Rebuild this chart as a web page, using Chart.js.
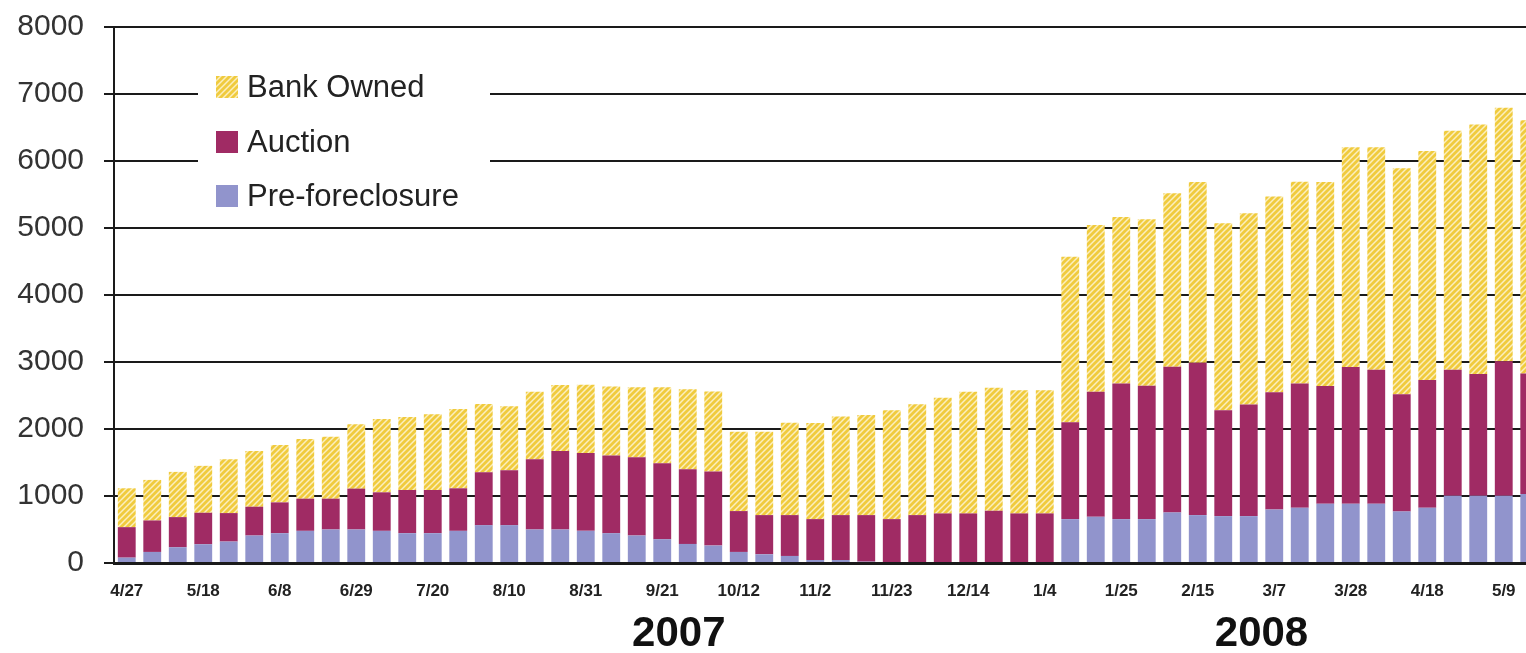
<!DOCTYPE html>
<html>
<head>
<meta charset="utf-8">
<script src="https://cdn.jsdelivr.net/npm/chart.js@4"></script>
<style>
  html, body { margin: 0; padding: 0; background: #fff; overflow: hidden; }
  #wrap { width: 1542px; height: 653px; }
</style>
</head>
<body>
<div id="wrap"><canvas id="c" width="1542" height="653"></canvas></div>
<script>
const weeks = ['4/27','5/4','5/11','5/18','5/25','6/1','6/8','6/15','6/22','6/29','7/6','7/13','7/20','7/27','8/3','8/10','8/17','8/24','8/31','9/7','9/14','9/21','9/28','10/5','10/12','10/19','10/26','11/2','11/9','11/16','11/23','11/30','12/7','12/14','12/21','12/28','1/4','1/11','1/18','1/25','2/1','2/8','2/15','2/22','2/29','3/7','3/14','3/21','3/28','4/4','4/11','4/18','4/25','5/2','5/9','5/16'];

const preForeclosure = [80,165,235,280,320,410,445,480,500,500,480,445,445,480,565,565,500,500,480,445,410,355,285,260,165,130,105,45,45,20,0,0,0,0,0,0,0,655,690,655,655,755,715,700,700,800,825,885,885,885,770,825,1005,1005,1005,1030];
const auction = [455,470,450,470,425,430,460,480,460,610,575,645,645,635,790,820,1050,1170,1160,1160,1170,1135,1115,1105,610,585,610,610,670,695,655,715,740,740,780,740,740,1445,1865,2025,1990,2175,2275,1580,1665,1750,1855,1755,2040,2000,1750,1905,1880,1815,2005,1800];
const bankOwned = [580,605,675,700,805,830,855,890,925,960,1095,1090,1130,1185,1020,955,1005,985,1020,1030,1045,1135,1195,1195,1185,1245,1380,1435,1470,1495,1625,1655,1725,1815,1835,1840,1840,2470,2490,2485,2485,2590,2695,2790,2855,2920,3010,3045,3280,3320,3370,3420,3565,3725,3785,3780];

const seriesNames = ['Bank Owned', 'Auction', 'Pre-foreclosure'];
const yearLabels = ['2007', '2008'];
const yearPositions = [21.65, 44.5];

const COL_AUCTION = '#A02B64';
const COL_PRE = '#9194CC';

function makeHatch() {
  const s = 6;
  const c = document.createElement('canvas');
  c.width = s; c.height = s;
  const x = c.getContext('2d');
  x.fillStyle = '#FBEFBF';
  x.fillRect(0, 0, s, s);
  x.strokeStyle = '#F0CB3E';
  x.lineWidth = 2.8;
  x.beginPath();
  x.moveTo(-1, s + 1); x.lineTo(s + 1, -1);
  x.moveTo(-s / 2 - 1, s / 2 + 1); x.lineTo(s / 2 + 1, -s / 2 - 1);
  x.moveTo(s / 2 - 1, s * 1.5 + 1); x.lineTo(s * 1.5 + 1, s / 2 - 1);
  x.stroke();
  return document.getElementById('c').getContext('2d').createPattern(c, 'repeat');
}
const hatch = makeHatch();

const legendPlugin = {
  id: 'insideLegend',
  beforeDatasetsDraw(chart) {
    const ctx = chart.ctx;
    ctx.save();
    ctx.fillStyle = '#ffffff';
    ctx.fillRect(198, 60, 292, 156);
    const items = [
      { label: seriesNames[0], fill: hatch },
      { label: seriesNames[1], fill: COL_AUCTION },
      { label: seriesNames[2], fill: COL_PRE }
    ];
    const tops = [76, 131, 185];
    ctx.font = '31px "Liberation Sans", Arial, sans-serif';
    ctx.textBaseline = 'middle';
    ctx.textAlign = 'left';
    items.forEach((it, i) => {
      ctx.fillStyle = it.fill;
      ctx.fillRect(216, tops[i], 22, 22);
      ctx.fillStyle = '#222';
      ctx.fillText(it.label, 247, tops[i] + 12);
    });
    ctx.restore();
  },
  afterDraw(chart) {
    const ctx = chart.ctx;
    const xs = chart.scales.x;
    ctx.save();
    ctx.font = 'bold 42px "Liberation Sans", Arial, sans-serif';
    ctx.fillStyle = '#111';
    ctx.textAlign = 'center';
    ctx.textBaseline = 'middle';
    yearLabels.forEach((t, i) => {
      ctx.fillText(t, xs.getPixelForValue(yearPositions[i]), 634);
    });
    ctx.restore();
  }
};

new Chart(document.getElementById('c'), {
  type: 'bar',
  data: {
    labels: weeks,
    datasets: [
      { label: seriesNames[2], data: preForeclosure, backgroundColor: COL_PRE },
      { label: seriesNames[1], data: auction, backgroundColor: COL_AUCTION },
      { label: seriesNames[0], data: bankOwned, backgroundColor: hatch }
    ]
  },
  options: {
    responsive: false,
    animation: false,
    devicePixelRatio: 1,
    layout: { padding: { top: 27, left: 0, right: 0, bottom: 0 } },
    plugins: { legend: { display: false }, tooltip: { enabled: false } },
    datasets: { bar: { barPercentage: 0.7, categoryPercentage: 1.0, borderWidth: 0 } },
    scales: {
      x: {
        stacked: true,
        offset: true,
        grid: { display: false, drawTicks: false },
        border: { display: true, color: '#1a1a1a', width: 3 },
        ticks: {
          autoSkip: false,
          maxRotation: 0,
          minRotation: 0,
          padding: 18,
          color: '#222',
          font: { family: '"Liberation Sans", Arial, sans-serif', size: 17, weight: 'bold' },
          callback: function(v, i) { return (i % 3 === 0 && i < 55) ? weeks[i] : ''; }
        },
        afterFit(scale) { scale.height = 90; scale.paddingLeft = 0; scale.paddingRight = 0; }
      },
      y: {
        stacked: true,
        min: 0,
        max: 8000,
        grid: { color: '#1a1a1a', lineWidth: 2, drawTicks: true, tickLength: 10 },
        border: { display: true, color: '#1a1a1a', width: 2 },
        ticks: {
          stepSize: 1000,
          padding: 20,
          color: '#333',
          font: { family: '"Liberation Sans", Arial, sans-serif', size: 30 },
          callback: function(v) { return String(v); }
        },
        afterFit(scale) { scale.width = 114; scale.paddingTop = 0; scale.paddingBottom = 0; }
      }
    }
  },
  plugins: [legendPlugin]
});
</script>
</body>
</html>
